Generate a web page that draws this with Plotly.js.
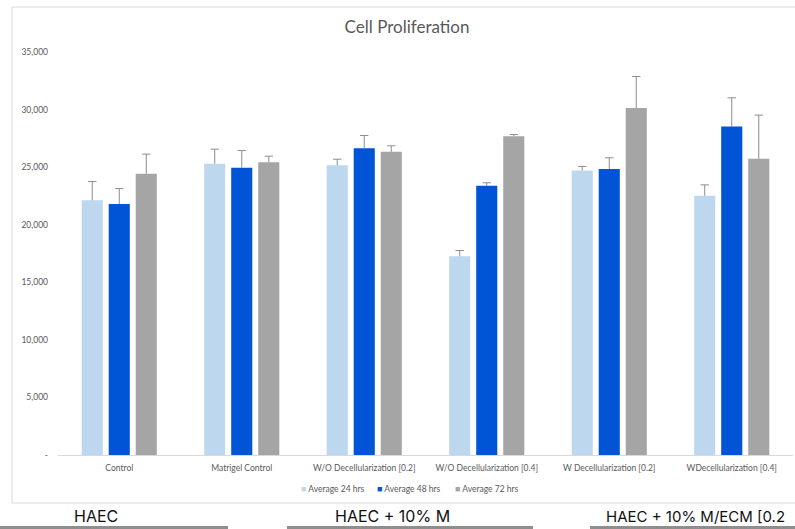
<!DOCTYPE html>
<html>
<head>
<meta charset="utf-8">
<script src="https://cdn.plot.ly/plotly-3.0.1.min.js"></script>
<style>html,body{margin:0;padding:0;background:#fff;}#chart{width:795px;height:529px;}</style>
</head>
<body>
<div id="chart"></div>
<script>
// ---- data ----
var categories = ["Control", "Matrigel Control", "W/O Decellularization [0.2]", "W/O Decellularization [0.4]", "W Decellularization [0.2]", "WDecellularization [0.4]"];
var seriesNames = ["Average 24 hrs", "Average 48 hrs", "Average 72 hrs"];
var avg24 = [22130, 25290, 25170, 17270, 24710, 22510];
var avg48 = [21790, 24940, 26650, 23380, 24830, 28530];
var avg72 = [24420, 25430, 26330, 27690, 30130, 25720];
var err24 = [1620, 1270, 520, 490, 350, 950];
var err48 = [1350, 1500, 1100, 260, 980, 2490];
var err72 = [1710, 520, 520, 140, 2740, 3800];
var yTickVals = [0, 5000, 10000, 15000, 20000, 25000, 30000, 35000];
var yTickText = ["-", "5,000", "10,000", "15,000", "20,000", "25,000", "30,000", "35,000"];
var footerLabels = ["HAEC", "HAEC + 10% M", "HAEC + 10% M/ECM [0.2"];

// ---- styles ----
var colors = ["#BDD7EE", "#0055D6", "#A5A5A5"];
var errColor = "#8C8C8C";
var W = 795, H = 529, L = 58, R = 2, T = 52, B = 74;
var PW = W - L - R, PH = H - T - B;
var BARGAP = 0.338, BARGROUPGAP = 0.22;
function px(x) { return (x - L) / PW; }
function py(y) { return (H - B - y) / PH; }

var values = [avg24, avg48, avg72];
var errs = [err24, err48, err72];
var traces = [];
values.forEach(function (v, i) {
  traces.push({
    type: "bar",
    name: seriesNames[i],
    x: categories,
    y: v,
    marker: { color: colors[i] },
    error_y: {
      type: "data", symmetric: false, array: errs[i],
      arrayminus: v.map(function () { return 0; }),
      color: errColor, thickness: 1, width: 0
    },
    hoverinfo: "none"
  });
});
// error-bar caps (top only), placed at the grouped-bar slot centres on an overlay axis
var slot = (1 - BARGAP) / values.length;
values.forEach(function (v, i) {
  var off = (i - (values.length - 1) / 2) * slot;
  traces.push({
    type: "scatter", mode: "markers", xaxis: "x2", yaxis: "y",
    x: categories.map(function (c, k) { return k + off; }),
    y: v.map(function (val, k) { return val + errs[i][k]; }),
    marker: { symbol: "line-ew-open", size: 6, line: { color: errColor, width: 1 }, color: errColor },
    hoverinfo: "none", showlegend: false, cliponaxis: false
  });
});

var tickFont = { family: "Lato, 'Open Sans', sans-serif", size: 8.5, color: "#595959" };

var annotations = [];
var legendX = [299, 375, 453];
seriesNames.forEach(function (n, i) {
  annotations.push({
    xref: "paper", yref: "paper", x: px(legendX[i]), y: py(489),
    xanchor: "left", yanchor: "middle", showarrow: false,
    text: "<span style='color:" + colors[i] + ";font-size:9px'>■</span> " + n,
    font: tickFont
  });
});
var footerX = [72, 333, 604];
var footerSize = [16, 16, 15];
footerLabels.forEach(function (t, i) {
  annotations.push({
    xref: "paper", yref: "paper", x: px(footerX[i]), y: py(516),
    xanchor: "left", yanchor: "middle", showarrow: false,
    text: t,
    font: { family: "Inter, Arial, sans-serif", size: footerSize[i], color: "#111111" }
  });
});

var shapes = [
  { type: "rect", xref: "paper", yref: "paper", x0: px(12), x1: px(800), y0: py(503), y1: py(7),
    line: { color: "#D9D9D9", width: 1 }, fillcolor: "rgba(0,0,0,0)", layer: "below" }
];
[[0, 228], [287, 533], [590, 795]].forEach(function (s) {
  shapes.push({ type: "rect", xref: "paper", yref: "paper", x0: px(s[0]), x1: px(s[1]), y0: py(529.5), y1: py(526),
    line: { width: 0 }, fillcolor: "#8E8E8E" });
});

var layout = {
  width: W, height: H,
  margin: { l: L, r: R, t: T, b: B, pad: 0 },
  paper_bgcolor: "#ffffff", plot_bgcolor: "#ffffff",
  title: {
    text: "Cell Proliferation",
    font: { family: "Lato, 'Open Sans', sans-serif", size: 17, color: "#595959" },
    x: 407 / W, xanchor: "center", y: 1 - 27 / H, yanchor: "middle", xref: "container", yref: "container"
  },
  showlegend: false,
  barmode: "group",
  bargap: BARGAP,
  bargroupgap: BARGROUPGAP,
  xaxis: {
    type: "category", showgrid: false, zeroline: false,
    showline: true, linecolor: "#D9D9D9", linewidth: 1,
    ticks: "", tickfont: tickFont, ticklabelstandoff: 5, automargin: false
  },
  xaxis2: {
    overlaying: "x", range: [-0.5, categories.length - 0.5], visible: false, fixedrange: true
  },
  yaxis: {
    range: [0, 35000], showgrid: false, zeroline: false, showline: false,
    tickvals: yTickVals, ticktext: yTickText, ticks: "",
    tickfont: tickFont, ticklabelstandoff: 9, automargin: false
  },
  annotations: annotations,
  shapes: shapes
};

Plotly.newPlot("chart", traces, layout, { displayModeBar: false, staticPlot: true });
</script>
</body>
</html>
